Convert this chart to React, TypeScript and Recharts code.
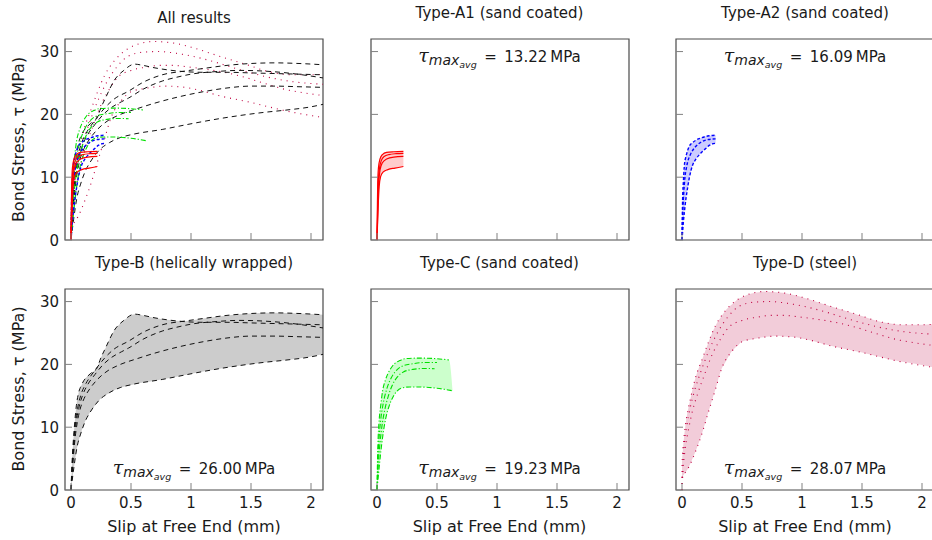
import React from 'react';
import { ComposedChart, Line, Area, XAxis, YAxis, ReferenceArea } from 'recharts';

type Pt = [number, number];

// ---------- Type-A1 (sand coated) : red solid ----------
const a1Curve1: Pt[] = [[0, 0], [0.003, 5], [0.006, 9], [0.012, 11.5], [0.025, 12.9], [0.045, 13.6], [0.08, 13.95], [0.14, 14.05], [0.22, 14.1]];
const a1Curve2: Pt[] = [[0, 0], [0.005, 5], [0.01, 9], [0.02, 11.3], [0.035, 12.6], [0.06, 13.3], [0.1, 13.6], [0.16, 13.75], [0.22, 13.8]];
const a1Curve3: Pt[] = [[0, 0], [0.007, 5], [0.014, 9], [0.026, 11.2], [0.045, 12.3], [0.08, 12.9], [0.14, 13.2], [0.22, 13.3]];
const a1Curve4: Pt[] = [[0, 0], [0.009, 5], [0.018, 8.5], [0.03, 10.1], [0.05, 10.8], [0.09, 11.2], [0.15, 11.45], [0.22, 11.7]];
const a1BandX = [0, 0.003, 0.006, 0.012, 0.025, 0.045, 0.08, 0.14, 0.22];
const a1BandLo = [0, 1.7, 3.3, 6.2, 9.4, 10.6, 11.1, 11.4, 11.7];
const a1BandHi = [0, 5, 9, 11.5, 12.9, 13.6, 13.95, 14.05, 14.1];

// ---------- Type-A2 (sand coated) : blue dashed ----------
const a2Curve1: Pt[] = [[0, 0], [0.005, 6.4], [0.012, 9.4], [0.019, 11.7], [0.033, 13.3], [0.04, 13.8], [0.06, 14.9], [0.088, 15.5], [0.117, 15.9], [0.16, 16.25], [0.2, 16.5], [0.23, 16.6], [0.28, 16.7]];
const a2Curve2: Pt[] = [[0, 0], [0.008, 5], [0.02, 9], [0.04, 11.8], [0.07, 13.6], [0.11, 14.8], [0.16, 15.6], [0.22, 16.0], [0.28, 16.1]];
const a2Curve3: Pt[] = [[0, 0], [0.005, 1.25], [0.012, 3], [0.019, 4.3], [0.033, 6.6], [0.04, 7.5], [0.06, 9.8], [0.088, 11.9], [0.117, 12.9], [0.16, 13.9], [0.2, 14.6], [0.23, 15.1], [0.28, 15.4]];
const a2BandX = [0, 0.005, 0.012, 0.019, 0.033, 0.04, 0.06, 0.088, 0.117, 0.16, 0.2, 0.23, 0.28];
const a2BandLo = [0, 1.25, 3, 4.3, 6.6, 7.5, 9.8, 11.9, 12.9, 13.9, 14.6, 15.1, 15.4];
const a2BandHi = [0, 6.4, 9.4, 11.7, 13.3, 13.8, 14.9, 15.5, 15.9, 16.25, 16.5, 16.6, 16.7];

// ---------- Type-B (helically wrapped) : black dashed ----------
const bCurve1: Pt[] = [[0, 0], [0.008, 4], [0.018, 7.5], [0.03, 10.5], [0.045, 13.5], [0.06, 15.2], [0.09, 16.8], [0.16, 18.5], [0.22, 19.5], [0.24, 20.6], [0.29, 22.7], [0.36, 25.4], [0.44, 27.0], [0.53, 28.0], [0.6, 27.8], [0.7, 27.4], [0.8, 27.1], [0.95, 26.8], [1.1, 26.7], [1.3, 26.7], [1.5, 26.6], [1.7, 26.5], [1.9, 26.4], [2.1, 26.3]];
const bCurve2: Pt[] = [[0, 0], [0.01, 4], [0.022, 7.5], [0.036, 10.5], [0.055, 13], [0.08, 15], [0.12, 16.8], [0.17, 18.3], [0.22, 19.6], [0.28, 21.0], [0.35, 22.3], [0.48, 23.7], [0.6, 25.1], [0.76, 26.3], [0.95, 26.9], [1.1, 27.3], [1.3, 27.8], [1.5, 28.1], [1.7, 28.2], [1.9, 28.1], [2.1, 27.9]];
const bCurve3: Pt[] = [[0, 0], [0.012, 4], [0.026, 7.5], [0.042, 10.5], [0.065, 13], [0.095, 15], [0.14, 16.8], [0.2, 18.4], [0.26, 19.8], [0.33, 21.0], [0.42, 22.0], [0.48, 22.6], [0.6, 24.0], [0.76, 25.3], [0.9, 26.0], [1.0, 26.4], [1.2, 26.8], [1.4, 27.0], [1.6, 26.9], [1.8, 26.6], [2.0, 26.1], [2.1, 25.8]];
const bCurve4: Pt[] = [[0, 0], [0.015, 4], [0.03, 7.5], [0.05, 10.5], [0.075, 12.8], [0.11, 14.6], [0.16, 16.2], [0.22, 17.6], [0.3, 18.9], [0.4, 19.9], [0.55, 20.9], [0.7, 21.8], [0.9, 22.8], [1.1, 23.6], [1.3, 24.2], [1.5, 24.5], [1.7, 24.5], [1.9, 24.4], [2.1, 24.3]];
const bCurve5: Pt[] = [[0, 0], [0.02, 3], [0.05, 6.8], [0.08, 8.9], [0.12, 11], [0.16, 12.4], [0.23, 14.2], [0.32, 15.5], [0.41, 16.3], [0.51, 16.8], [0.76, 17.6], [1.0, 18.5], [1.2, 19.2], [1.4, 19.8], [1.6, 20.3], [1.8, 20.7], [2.0, 21.2], [2.1, 21.6]];
const bBandX = [0, 0.008, 0.018, 0.03, 0.045, 0.06, 0.09, 0.16, 0.22, 0.24, 0.29, 0.36, 0.44, 0.53, 0.6, 0.7, 0.8, 0.95, 1.1, 1.3, 1.5, 1.7, 1.9, 2.1];
const bBandLo = [0, 1.2, 2.7, 4.3, 6.2, 7.5, 9.5, 12.4, 13.9, 14.4, 15.1, 15.9, 16.45, 16.85, 17.1, 17.4, 17.75, 18.3, 18.85, 19.5, 20.05, 20.5, 20.95, 21.6];
const bBandHi = [0, 4, 7.5, 10.5, 13.5, 15.2, 16.8, 18.5, 19.5, 20.6, 22.7, 25.4, 27.0, 28.0, 27.8, 27.4, 27.1, 26.9, 27.3, 27.8, 28.1, 28.2, 28.1, 27.9];

// ---------- Type-C (sand coated) : green dash-dot ----------
const cCurve1: Pt[] = [[0, 0], [0.005, 5.5], [0.01, 8.5], [0.02, 11.6], [0.03, 13.3], [0.047, 15.8], [0.07, 17.5], [0.09, 18.5], [0.12, 19.5], [0.145, 20.1], [0.19, 20.6], [0.23, 20.9], [0.35, 21.0], [0.5, 20.9], [0.6, 20.7]];
const cCurve2: Pt[] = [[0, 0], [0.008, 5], [0.018, 8.5], [0.03, 11], [0.05, 13.6], [0.08, 16], [0.12, 17.9], [0.17, 19.2], [0.22, 19.8], [0.3, 20.1], [0.4, 20.3], [0.5, 20.3]];
const cCurve3: Pt[] = [[0, 0], [0.012, 4.5], [0.025, 7.5], [0.04, 10], [0.065, 12.8], [0.095, 15], [0.13, 16.8], [0.17, 18], [0.22, 18.8], [0.3, 19.2], [0.4, 19.35], [0.48, 19.3]];
const cCurve4: Pt[] = [[0, 0], [0.015, 3], [0.033, 6.3], [0.055, 9.5], [0.075, 11.6], [0.1, 13.3], [0.13, 14.7], [0.16, 15.6], [0.2, 16.2], [0.27, 16.4], [0.35, 16.4], [0.5, 16.2], [0.63, 15.8]];
const cBandX = [0, 0.005, 0.01, 0.02, 0.03, 0.047, 0.07, 0.09, 0.12, 0.145, 0.19, 0.23, 0.35, 0.5, 0.6, 0.63];
const cBandLo = [0, 1.0, 2.0, 4.0, 5.7, 8.3, 11.1, 12.5, 14.2, 15.15, 16.05, 16.3, 16.4, 16.2, 15.9, 15.8];
const cBandHi = [0, 5.5, 8.5, 11.6, 13.3, 15.8, 17.5, 18.5, 19.5, 20.1, 20.6, 20.9, 21.0, 20.9, 20.7, 15.8];

// ---------- Type-D (steel) : purple dotted ----------
const dCurve1: Pt[] = [[0, 0], [0.001, 4.5], [0.01, 7], [0.028, 10.2], [0.055, 13.2], [0.07, 14.5], [0.11, 17.7], [0.17, 20.9], [0.22, 23.5], [0.28, 26.2], [0.36, 28.5], [0.47, 30.4], [0.58, 31.3], [0.68, 31.6], [0.84, 31.4], [1.0, 30.7], [1.23, 29.3], [1.45, 28.0], [1.67, 26.7], [1.84, 26.3], [2.0, 26.3], [2.1, 26.4]];
const dCurve2: Pt[] = [[0, 0], [0.005, 3], [0.015, 6.3], [0.04, 10.2], [0.065, 12.8], [0.1, 15.5], [0.16, 19], [0.22, 22], [0.3, 25.2], [0.38, 27.5], [0.48, 29.3], [0.6, 29.9], [0.73, 30.0], [0.85, 29.8], [1.0, 29.3], [1.17, 28.5], [1.34, 27.5], [1.5, 26.6], [1.67, 25.8], [1.85, 25.2], [2.1, 24.8]];
const dCurve3: Pt[] = [[0, 0], [0.008, 3], [0.025, 6.3], [0.06, 10.2], [0.09, 12.8], [0.13, 15.3], [0.19, 18.5], [0.25, 21.5], [0.32, 24], [0.39, 25.9], [0.5, 27.0], [0.62, 27.5], [0.75, 27.8], [0.84, 27.8], [1.0, 27.5], [1.12, 27.2], [1.3, 26.6], [1.45, 25.9], [1.6, 25.0], [1.78, 24.0], [1.95, 23.4], [2.1, 23.0]];
const dCurve4: Pt[] = [[0, 0], [0.001, 2], [0.028, 2.8], [0.055, 3.6], [0.11, 6.0], [0.17, 9.2], [0.22, 12.4], [0.28, 16.1], [0.33, 19.3], [0.42, 22.2], [0.5, 23.6], [0.64, 24.2], [0.78, 24.5], [0.95, 24.3], [1.1, 23.7], [1.23, 23.0], [1.5, 21.9], [1.78, 20.6], [2.1, 19.5]];
const dBandX = [0, 0.01, 0.028, 0.055, 0.07, 0.11, 0.17, 0.22, 0.28, 0.33, 0.36, 0.42, 0.47, 0.5, 0.58, 0.64, 0.68, 0.78, 0.84, 0.95, 1.0, 1.1, 1.23, 1.45, 1.5, 1.67, 1.78, 1.84, 2.0, 2.1];
const dBandLo = [2, 2.3, 2.8, 3.6, 4.2, 6.0, 9.2, 12.4, 16.1, 19.3, 20.3, 22.2, 23.1, 23.6, 23.95, 24.2, 24.3, 24.5, 24.45, 24.3, 24.1, 23.7, 23.0, 22.1, 21.9, 21.1, 20.6, 20.4, 19.9, 19.5];
const dBandHi = [4.5, 7, 10.2, 13.2, 14.5, 17.7, 20.9, 23.5, 26.2, 27.7, 28.5, 29.6, 30.4, 30.7, 31.3, 31.5, 31.6, 31.5, 31.4, 30.95, 30.7, 30.1, 29.3, 28.0, 27.7, 26.7, 26.4, 26.3, 26.3, 26.4];

// ---------- axes / labels ----------
const xTicks = [0, 0.5, 1, 1.5, 2];
const yTicks = [0, 10, 20, 30];
const X_DOMAIN: [number, number] = [-0.05, 2.1];
const Y_DOMAIN: [number, number] = [0, 32];
const panelTitles = ['All results', 'Type-A1 (sand coated)', 'Type-A2 (sand coated)', 'Type-B (helically wrapped)', 'Type-C (sand coated)', 'Type-D (steel)'];
const tauValues = ['', '13.22', '16.09', '26.00', '19.23', '28.07'];
const xLabel = 'Slip at Free End (mm)';
const yLabel = 'Bond Stress, \u03c4 (MPa)';

// ---------- styles ----------
const FONT = "'DejaVu Sans', sans-serif";
const TEXT = '#1a1a1a';
const FRAME = '#4a4a4a';
const TICK = '#808080';

type Style = { stroke: string; dash?: string; fill: string; width: number };
const sA1: Style = { stroke: '#ff0000', fill: '#ffcccc', width: 1.2 };
const sA2: Style = { stroke: '#0000ff', dash: '3 2', fill: '#ccccff', width: 1.4 };
const sB: Style = { stroke: '#111111', dash: '5 4', fill: '#cccccc', width: 1.0 };
const sC: Style = { stroke: '#00e000', dash: '5 2 1.2 2', fill: '#ccffcc', width: 1.1 };
const sD: Style = { stroke: '#bf0040', dash: '1 5', fill: '#f2ccd9', width: 1.1 };

const PLOT_W = 258;
const PLOT_H = 201;
const colLeft = [65, 370.5, 676];
const rowTop = [39, 288.5];
const ML = 40, MT = 10, MR = 10, MB = 30;

const toRows = (pts: Pt[]) => pts.map(([x, y]) => ({ x, y }));
const toBand = (xs: number[], lo: number[], hi: number[]) => xs.map((x, i) => ({ x, range: [lo[i], hi[i]] }));

type CurveSet = { curves: Pt[][]; style: Style };
type Band = { xs: number[]; lo: number[]; hi: number[]; style: Style };

const makeXTick = (showLabel: boolean) => (props: any) => {
  const { x, y, payload } = props;
  return (
    <g>
      <line x1={x} x2={x} y1={y} y2={y - 7} stroke={TICK} strokeWidth={1} />
      {showLabel && (
        <text x={x} y={y + 18} textAnchor="middle" fontSize={15} fontFamily={FONT} fill={TEXT}>
          {String(payload.value)}
        </text>
      )}
    </g>
  );
};

const makeYTick = (showLabel: boolean) => (props: any) => {
  const { x, y, payload } = props;
  return (
    <g>
      <line x1={x} x2={x + 7} y1={y} y2={y} stroke={TICK} strokeWidth={1} />
      {showLabel && (
        <text x={x - 6} y={y + 5.5} textAnchor="end" fontSize={15} fontFamily={FONT} fill={TEXT}>
          {String(payload.value)}
        </text>
      )}
    </g>
  );
};

function Panel(props: { col: number; row: number; sets: CurveSet[]; band?: Band; xLabels: boolean; yLabels: boolean }) {
  const { col, row, sets, band, xLabels, yLabels } = props;
  const left = colLeft[col] - ML;
  const top = rowTop[row] - MT;
  return (
    <div style={{ position: 'absolute', left, top }}>
      <ComposedChart width={ML + PLOT_W + MR} height={MT + PLOT_H + MB} margin={{ top: MT, right: MR, bottom: 0, left: 0 }}>
        <XAxis dataKey="x" type="number" domain={X_DOMAIN} ticks={xTicks} allowDataOverflow height={MB}
          axisLine={false} tickLine={false} tickSize={0} tickMargin={0} interval={0} tick={makeXTick(xLabels)} />
        <YAxis type="number" domain={Y_DOMAIN} ticks={yTicks} allowDataOverflow width={ML}
          axisLine={false} tickLine={false} tickSize={0} tickMargin={0} interval={0} tick={makeYTick(yLabels)} />
        {band && (
          <Area data={toBand(band.xs, band.lo, band.hi)} dataKey="range" type="monotone" stroke="none"
            fill={band.style.fill} fillOpacity={1} isAnimationActive={false} dot={false} activeDot={false} />
        )}
        {sets.flatMap((set, si) =>
          set.curves.map((c, ci) => (
            <Line key={`${si}-${ci}`} data={toRows(c)} dataKey="y" type="monotone" stroke={set.style.stroke}
              strokeWidth={set.style.width} strokeDasharray={set.style.dash} dot={false} activeDot={false}
              isAnimationActive={false} />
          ))
        )}
        <ReferenceArea x1={X_DOMAIN[0]} x2={X_DOMAIN[1]} y1={Y_DOMAIN[0]} y2={Y_DOMAIN[1]} fill="none"
          stroke={FRAME} strokeWidth={1.2} ifOverflow="visible" />
      </ComposedChart>
    </div>
  );
}

const setA1: CurveSet = { curves: [a1Curve1, a1Curve2, a1Curve3, a1Curve4], style: sA1 };
const setA2: CurveSet = { curves: [a2Curve1, a2Curve2, a2Curve3], style: sA2 };
const setB: CurveSet = { curves: [bCurve1, bCurve2, bCurve3, bCurve4, bCurve5], style: sB };
const setC: CurveSet = { curves: [cCurve1, cCurve2, cCurve3, cCurve4], style: sC };
const setD: CurveSet = { curves: [dCurve1, dCurve2, dCurve3, dCurve4], style: sD };

function TauNote({ cx, y, value }: { cx: number; y: number; value: string }) {
  return (
    <text x={cx} y={y} textAnchor="middle" fontFamily={FONT} fontSize={15} fill={TEXT}>
      <tspan fontFamily="'DejaVu Serif', serif" fontStyle="italic" fontSize={19}>{'\u03c4'}</tspan>
      <tspan fontStyle="italic" fontSize={14} dy={3}>max</tspan>
      <tspan fontStyle="italic" fontSize={9.5} dy={3}>avg</tspan>
      <tspan dy={-6}>{`\u2002=\u2002${value}\u2009MPa`}</tspan>
    </text>
  );
}

export default function App() {
  const centers = colLeft.map((l) => l + PLOT_W / 2);
  return (
    <div style={{ position: 'absolute', left: 0, top: 0, width: 932, height: 540, overflow: 'hidden', background: '#ffffff' }}>
      <Panel col={0} row={0} sets={[setD, setB, setC, setA2, setA1]} xLabels={false} yLabels={true} />
      <Panel col={1} row={0} sets={[setA1]} band={{ xs: a1BandX, lo: a1BandLo, hi: a1BandHi, style: sA1 }} xLabels={false} yLabels={false} />
      <Panel col={2} row={0} sets={[setA2]} band={{ xs: a2BandX, lo: a2BandLo, hi: a2BandHi, style: sA2 }} xLabels={false} yLabels={false} />
      <Panel col={0} row={1} sets={[setB]} band={{ xs: bBandX, lo: bBandLo, hi: bBandHi, style: sB }} xLabels={true} yLabels={true} />
      <Panel col={1} row={1} sets={[setC]} band={{ xs: cBandX, lo: cBandLo, hi: cBandHi, style: sC }} xLabels={true} yLabels={false} />
      <Panel col={2} row={1} sets={[setD]} band={{ xs: dBandX, lo: dBandLo, hi: dBandHi, style: sD }} xLabels={true} yLabels={false} />
      <svg width={932} height={540} style={{ position: 'absolute', left: 0, top: 0, pointerEvents: 'none' }}>
        {panelTitles.map((t, i) => {
          const col = i % 3;
          const row = Math.floor(i / 3);
          const base = i === 0 ? 22.7 : row === 0 ? 18.3 : 268.3;
          return (
            <text key={t} x={centers[col]} y={base} textAnchor="middle" fontFamily={FONT} fontSize={15} fill={TEXT}>{t}</text>
          );
        })}
        {tauValues.map((v, i) => {
          if (!v) return null;
          const col = i % 3;
          const row = Math.floor(i / 3);
          return <TauNote key={i} cx={centers[col]} y={row === 0 ? 61.7 : 473.5} value={v} />;
        })}
        {[0, 1].map((r) => (
          <text key={r} transform={`translate(23.5, ${rowTop[r] + PLOT_H / 2}) rotate(-90)`} textAnchor="middle"
            fontFamily={FONT} fontSize={16} fill={TEXT}>{yLabel}</text>
        ))}
        {centers.map((c, i) => (
          <text key={i} x={c} y={532} textAnchor="middle" fontFamily={FONT} fontSize={16} fill={TEXT}>{xLabel}</text>
        ))}
      </svg>
    </div>
  );
}
